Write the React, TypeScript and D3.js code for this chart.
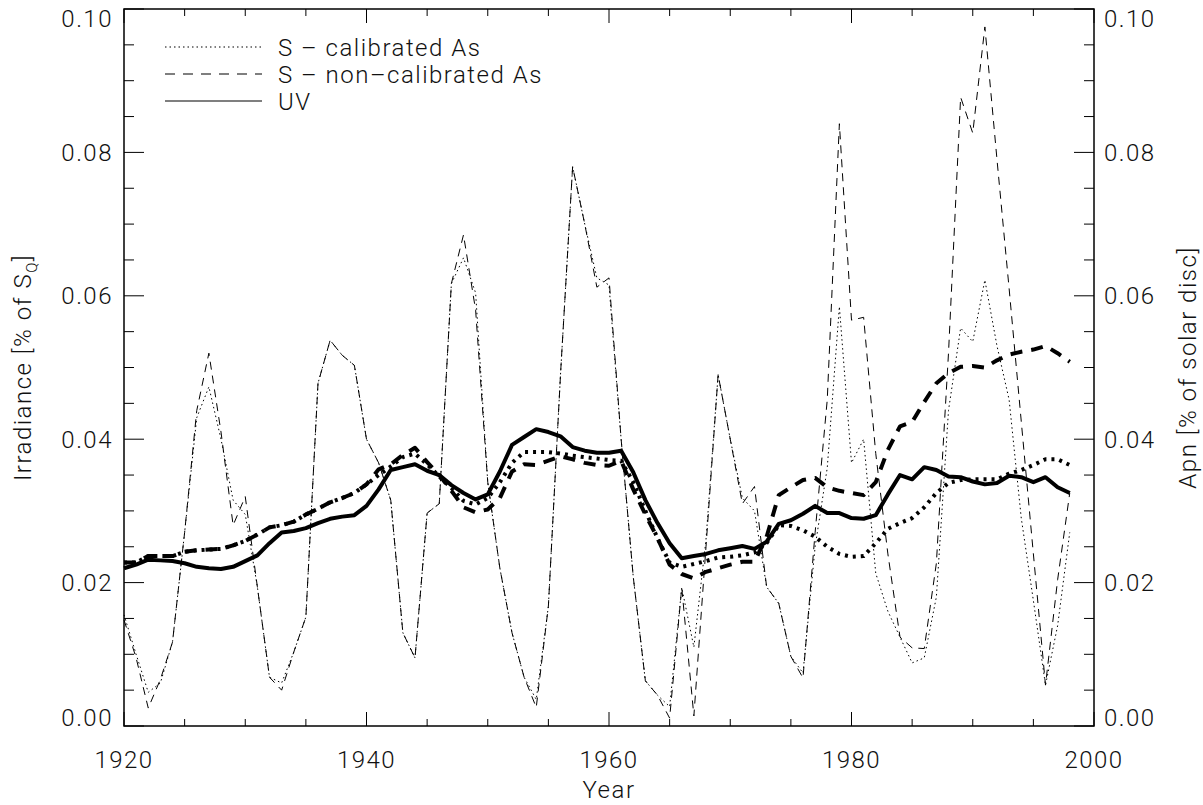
import React from 'react';
import * as d3 from 'd3';

const W = 1203;
const H = 805;

// yearly values 1920..1998
const years = d3.range(1920, 1999);

// thick lines, left axis: irradiance [% of S_Q]
const uvIrr = [
  0.0220, 0.0225, 0.0232, 0.0231, 0.0230, 0.0227, 0.0222, 0.0220, 0.0219, 0.0222,
  0.0230, 0.0238, 0.0255, 0.0270, 0.0272, 0.0276, 0.0283, 0.0289, 0.0292, 0.0294,
  0.0307, 0.0330, 0.0357, 0.0361, 0.0365, 0.0356, 0.0350, 0.0336, 0.0325, 0.0316,
  0.0323, 0.0355, 0.0392, 0.0403, 0.0414, 0.0410, 0.0404, 0.0389, 0.0384, 0.0381,
  0.0381, 0.0384, 0.0354, 0.0315, 0.0283, 0.0255, 0.0234, 0.0237, 0.0240, 0.0245,
  0.0248, 0.0251, 0.0247, 0.0257, 0.0282, 0.0287, 0.0296, 0.0307, 0.0297, 0.0297,
  0.0290, 0.0289, 0.0294, 0.0323, 0.0350, 0.0344, 0.0361, 0.0357, 0.0348, 0.0347,
  0.0341, 0.0337, 0.0339, 0.0349, 0.0347, 0.0340, 0.0347, 0.0333, 0.0325,
];
const sCalIrr = [
  0.0228, 0.0228, 0.0237, 0.0237, 0.0237, 0.0243, 0.0245, 0.0246, 0.0247, 0.0252,
  0.0258, 0.0267, 0.0277, 0.0280, 0.0285, 0.0295, 0.0303, 0.0312, 0.0318, 0.0325,
  0.0337, 0.0350, 0.0362, 0.0375, 0.0380, 0.0365, 0.0348, 0.0332, 0.0314, 0.0309,
  0.0318, 0.0340, 0.0367, 0.0382, 0.0382, 0.0382, 0.0380, 0.0377, 0.0375, 0.0373,
  0.0371, 0.0370, 0.0340, 0.0300, 0.0262, 0.0228, 0.0222, 0.0226, 0.0230, 0.0235,
  0.0236, 0.0238, 0.0242, 0.0255, 0.0280, 0.0279, 0.0273, 0.0264, 0.0250, 0.0240,
  0.0236, 0.0237, 0.0255, 0.0275, 0.0283, 0.0290, 0.0305, 0.0325, 0.0339, 0.0343,
  0.0344, 0.0344, 0.0344, 0.0352, 0.0357, 0.0364, 0.0372, 0.0372, 0.0364,
];
const sNonIrr = [
  0.0228, 0.0228, 0.0237, 0.0237, 0.0237, 0.0243, 0.0245, 0.0246, 0.0247, 0.0252,
  0.0258, 0.0267, 0.0277, 0.0280, 0.0285, 0.0295, 0.0303, 0.0312, 0.0318, 0.0325,
  0.0337, 0.0358, 0.0365, 0.0378, 0.0388, 0.0368, 0.0350, 0.0328, 0.0305, 0.0298,
  0.0302, 0.0318, 0.0355, 0.0365, 0.0364, 0.0370, 0.0376, 0.0372, 0.0367, 0.0364,
  0.0363, 0.0370, 0.0330, 0.0295, 0.0262, 0.0225, 0.0212, 0.0206, 0.0215, 0.0220,
  0.0225, 0.0229, 0.0229, 0.0264, 0.0322, 0.0333, 0.0343, 0.0346, 0.0333, 0.0328,
  0.0325, 0.0322, 0.0340, 0.0385, 0.0418, 0.0424, 0.0452, 0.0478, 0.0492, 0.0501,
  0.0502, 0.0500, 0.0510, 0.0518, 0.0522, 0.0525, 0.0530, 0.0520, 0.0508,
];

// thin lines, right axis: Apn [% of solar disc]
const apnCal = [
  0.0155, 0.0100, 0.0047, 0.0060, 0.0117, 0.0270, 0.0430, 0.0473, 0.0400, 0.0315,
  0.0295, 0.0194, 0.0068, 0.0060, 0.0103, 0.0152, 0.0478, 0.0538, 0.0517, 0.0503,
  0.0400, 0.0367, 0.0315, 0.0130, 0.0095, 0.0297, 0.0310, 0.0617, 0.0653, 0.0604,
  0.0340, 0.0220, 0.0130, 0.0068, 0.0037, 0.0167, 0.0490, 0.0780, 0.0700, 0.0625,
  0.0615, 0.0400, 0.0208, 0.0063, 0.0043, 0.0027, 0.0193, 0.0110, 0.0260, 0.0490,
  0.0400, 0.0318, 0.0300, 0.0194, 0.0171, 0.0097, 0.0074, 0.0250, 0.0360, 0.0585,
  0.0367, 0.0400, 0.0213, 0.0160, 0.0124, 0.0088, 0.0095, 0.0180, 0.0440, 0.0555,
  0.0536, 0.0622, 0.0530, 0.0455, 0.0290, 0.0175, 0.0057, 0.0140, 0.0270,
];
const apnNon = [
  0.0148, 0.0095, 0.0025, 0.0065, 0.0117, 0.0270, 0.0440, 0.0520, 0.0410, 0.0280,
  0.0320, 0.0194, 0.0068, 0.0050, 0.0103, 0.0152, 0.0478, 0.0538, 0.0517, 0.0503,
  0.0400, 0.0367, 0.0315, 0.0130, 0.0095, 0.0297, 0.0310, 0.0617, 0.0685, 0.0580,
  0.0340, 0.0220, 0.0130, 0.0068, 0.0026, 0.0167, 0.0490, 0.0780, 0.0700, 0.0612,
  0.0625, 0.0400, 0.0208, 0.0063, 0.0043, 0.0011, 0.0193, 0.0014, 0.0250, 0.0490,
  0.0400, 0.0310, 0.0334, 0.0194, 0.0171, 0.0097, 0.0067, 0.0270, 0.0455, 0.0840,
  0.0566, 0.0570, 0.0380, 0.0240, 0.0124, 0.0109, 0.0108, 0.0227, 0.0520, 0.0877,
  0.0827, 0.0975, 0.0790, 0.0610, 0.0425, 0.0240, 0.0057, 0.0204, 0.0325,
];

const legendLabels = ['S \u2013 calibrated As', 'S \u2013 non\u2013calibrated As', 'UV'];

const FONT = "Roboto, 'DejaVu Sans', sans-serif";

const App: React.FC = () => {
  const left = 124;
  const right = 1094;
  const top = 9;
  const bottom = 726;

  const x = d3.scaleLinear().domain([1920, 2000]).range([left, right]);
  const yL = d3.scaleLinear().domain([0, 0.1]).range([bottom, top]);
  const yR = d3.scaleLinear().domain([0, 0.1]).range([bottom, top]);

  const mk = (vals: number[], y: d3.ScaleLinear<number, number>) =>
    d3.line<number>().x((_, i) => x(years[i])).y((v) => y(v))(vals) || '';

  const xMajor = d3.range(1920, 2001, 20);
  const xMinor = d3.range(1920, 2001, 5).filter((v) => v % 20 !== 0);
  const yMajor = d3.range(0, 0.1001, 0.02);
  const yMinor = d3.range(0, 0.1001, 0.005).filter((_, i) => i % 4 !== 0);
  const fmt = d3.format('.2f');

  // IDL keeps end labels inside the axis range
  const labelY = (v: number) => {
    const c = yL(v);
    return Math.min(Math.max(c, top + 9), bottom - 9);
  };

  const textStyle: React.CSSProperties = {
    fontFamily: FONT,
    fontWeight: 300,
    fontSize: 24,
    letterSpacing: 1.5,
    fill: '#111',
  };

  const thin = { fill: 'none', stroke: '#000', strokeWidth: 1 } as const;
  const thick = { fill: 'none', stroke: '#000', strokeWidth: 4, strokeLinejoin: 'round' as const };

  return (
    <svg width={W} height={H} style={{ position: 'absolute', left: 0, top: 0, background: '#fff' }}>
      {/* thin lines: Apn */}
      <path d={mk(apnNon, yR)} {...thin} strokeDasharray="8 6" />
      <path d={mk(apnCal, yR)} {...thin} strokeDasharray="1.5 3" />

      {/* thick lines: irradiance */}
      <path d={mk(sNonIrr, yL)} {...thick} strokeDasharray="12 9" />
      <path d={mk(sCalIrr, yL)} {...thick} strokeDasharray="3 5" />
      <path d={mk(uvIrr, yL)} {...thick} />

      {/* frame */}
      <rect x={left} y={top} width={right - left} height={bottom - top} fill="none" stroke="#000" strokeWidth={1.5} />

      {/* x ticks */}
      {xMajor.map((v) => (
        <g key={'xM' + v}>
          <line x1={x(v)} x2={x(v)} y1={bottom} y2={bottom - 14} stroke="#000" />
          <line x1={x(v)} x2={x(v)} y1={top} y2={top + 14} stroke="#000" />
          <text x={x(v)} y={768} textAnchor="middle" style={textStyle}>{v}</text>
        </g>
      ))}
      {xMinor.map((v) => (
        <g key={'xm' + v}>
          <line x1={x(v)} x2={x(v)} y1={bottom} y2={bottom - 7} stroke="#000" />
          <line x1={x(v)} x2={x(v)} y1={top} y2={top + 7} stroke="#000" />
        </g>
      ))}

      {/* y ticks, both sides */}
      {yMajor.map((v) => (
        <g key={'yM' + v}>
          <line x1={left} x2={left + 20} y1={yL(v)} y2={yL(v)} stroke="#000" />
          <line x1={right} x2={right - 20} y1={yR(v)} y2={yR(v)} stroke="#000" />
          <text x={113} y={labelY(v)} dy="0.36em" textAnchor="end" style={textStyle}>{fmt(v)}</text>
          <text x={1104} y={labelY(v)} dy="0.36em" textAnchor="start" style={textStyle}>{fmt(v)}</text>
        </g>
      ))}
      {yMinor.map((v) => (
        <g key={'ym' + v}>
          <line x1={left} x2={left + 10} y1={yL(v)} y2={yL(v)} stroke="#000" />
          <line x1={right} x2={right - 10} y1={yR(v)} y2={yR(v)} stroke="#000" />
        </g>
      ))}

      {/* axis titles */}
      <text x={x(1960)} y={798} textAnchor="middle" style={textStyle}>Year</text>
      <text transform={`translate(31,${(top + bottom) / 2}) rotate(-90)`} textAnchor="middle" style={textStyle}>
        Irradiance [% of S<tspan fontSize={15} dy={6}>Q</tspan><tspan dy={-6}>]</tspan>
      </text>
      <text transform={`translate(1196,${(top + bottom) / 2}) rotate(-90)`} textAnchor="middle" style={textStyle}>
        Apn [% of solar disc]
      </text>

      {/* legend */}
      {legendLabels.map((label, i) => {
        const ly = 47 + i * 27;
        const dash = i === 0 ? '1.5 3' : i === 1 ? '10 8' : undefined;
        return (
          <g key={label}>
            <line x1={165} x2={262} y1={ly} y2={ly} stroke="#000" strokeWidth={1.2} strokeDasharray={dash} />
            <text x={278} y={ly} dy="0.36em" style={textStyle}>{label}</text>
          </g>
        );
      })}
    </svg>
  );
};

export default App;
